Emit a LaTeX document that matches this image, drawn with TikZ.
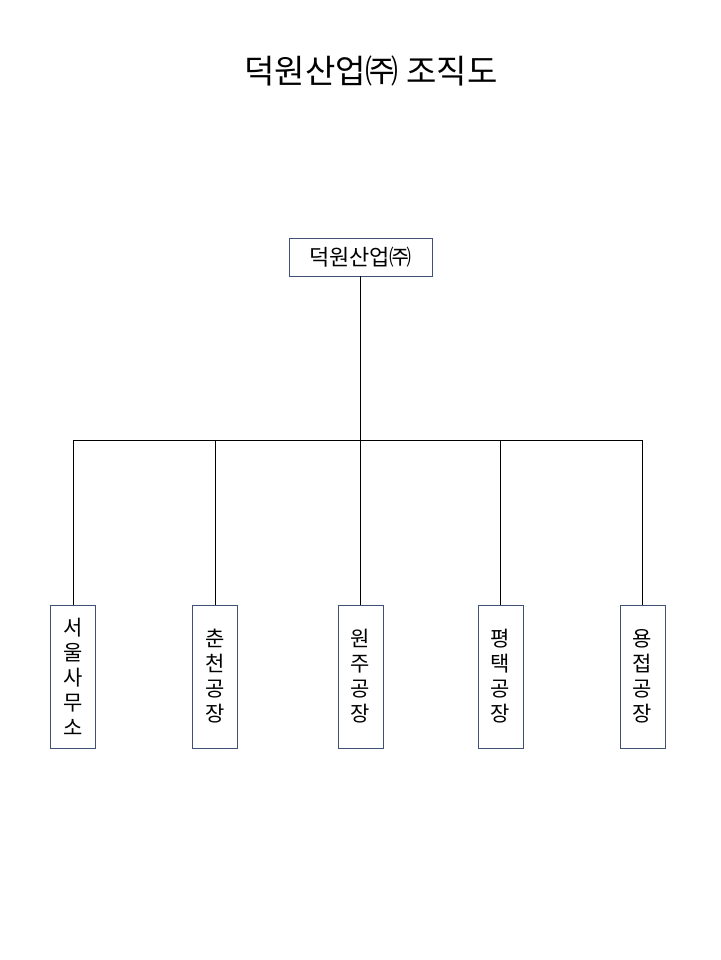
\documentclass[tikz,border=0pt]{standalone}
\usepackage{fontspec}
\newfontfamily\cjk{Noto Sans CJK KR}
\usepackage{xcolor}
\definecolor{boxline}{rgb}{0.25,0.32,0.45}
\usepackage{tikz}
\usetikzlibrary{positioning, calc}

\begin{document}
\begin{tikzpicture}[
    x=1pt, y=-1pt,
    head/.style={draw=boxline, line width=0.9pt, minimum width=143pt, minimum height=38pt, inner sep=0pt, font=\cjk\fontsize{22}{26}\selectfont},
    unit/.style={draw=boxline, line width=0.9pt, minimum width=45pt, minimum height=143pt, inner sep=0pt, align=center, font=\cjk\fontsize{21}{25}\selectfont},
    link/.style={line width=0.8pt}
    ]
    \useasboundingbox (0,0) rectangle (720,960);

    % title
    \node[font=\cjk\fontsize{33}{38}\selectfont] (title) at (371,71) {덕원산업㈜ 조직도};

    % top
    \node[head] (corp) at (360.5,257) {덕원산업㈜};
    \coordinate (split) at (360.5,440);

    % units
    \node[unit] (seoul) at (73,676.5) {서\\울\\사\\무\\소};
    \node[unit] (chuncheon) at (215,676.5) {춘\\천\\공\\장};
    \node[unit] (wonju) at (360.5,676.5) {원\\주\\공\\장};
    \node[unit] (pyeongtaek) at (500.5,676.5) {평\\택\\공\\장};
    \node[unit] (yongjeop) at (642.5,676.5) {용\\접\\공\\장};

    \draw[link] (corp.south) -- (split);
    \draw[link] (seoul.north |- split) -- (yongjeop.north |- split);
    \foreach \u in {seoul, chuncheon, wonju, pyeongtaek, yongjeop}
        \draw[link] (\u.north |- split) -- (\u.north);
\end{tikzpicture}
\end{document}
